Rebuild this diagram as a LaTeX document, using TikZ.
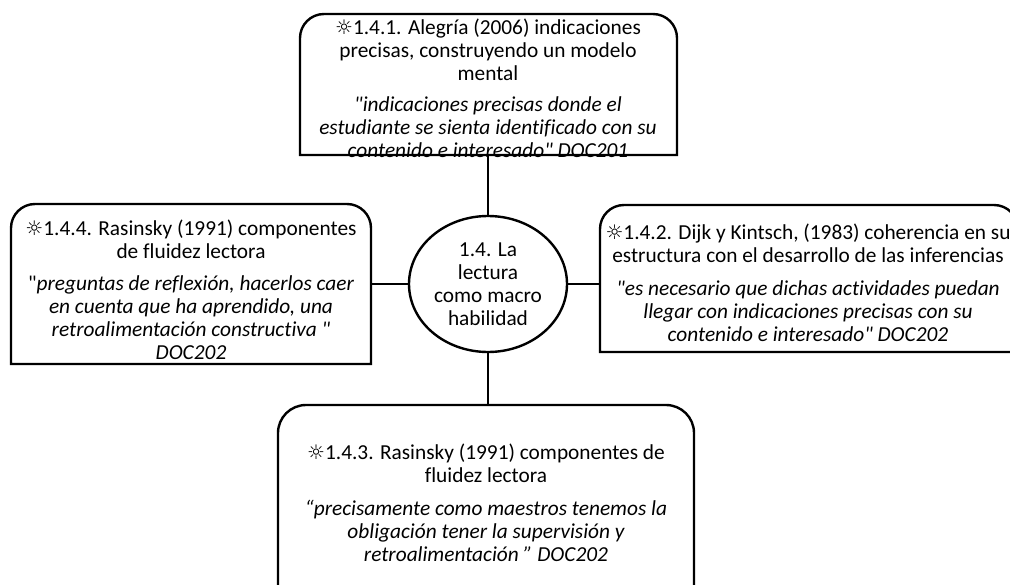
\documentclass[tikz,border=0pt]{standalone}
\usepackage{fontspec}
\setmainfont{Carlito}[Ligatures={TeXOff,NoCommon}]
\newfontfamily\symfont{DejaVu Sans}
\usetikzlibrary{shapes.geometric}
\newcommand{\sunmark}{{\symfont\fontsize{15pt}{10pt}\selectfont ☼}}
\tikzset{
  x=0.75pt,y=-0.75pt,
  ln/.style={line width=1.8pt,black},
  boxarea/.style={inner sep=0pt,outer sep=0pt,rectangle},
  body/.style={align=center,inner sep=0pt,font=\fontsize{16pt}{17.2pt}\selectfont},
}
\begin{document}
\begin{tikzpicture}
\useasboundingbox (0,0) rectangle (1010,585);
\clip (0,0) rectangle (1010,585);
\fill[white] (0,0) rectangle (1010,585);
% box areas
\node[boxarea,minimum width=282.75pt,minimum height=105.75pt] (t) at (488.5,84.5) {};
\node[boxarea,minimum width=270pt,minimum height=120pt] (l) at (191,284) {};
\node[boxarea,minimum width=313.5pt,minimum height=110.25pt] (r) at (809,278.5) {};
\node[boxarea,minimum width=312pt,minimum height=225pt] (b) at (486,555) {};
\node[ellipse,draw,ln,fill=white,inner sep=0pt,outer sep=0pt,minimum width=118.5pt,minimum height=102pt] (e) at (488,284) {};
% outlines
\draw[ln] (t.south west) [rounded corners=18pt] -- (t.north west) -- (t.north east) [sharp corners] -- (t.south east) -- cycle;
\draw[ln] (l.south west) [rounded corners=18pt] -- (l.north west) -- (l.north east) [sharp corners] -- (l.south east) -- cycle;
\draw[ln] (r.south west) [rounded corners=18pt] -- (r.north west) -- (r.north east) [sharp corners] -- (r.south east) -- cycle;
\draw[ln] (b.south west) [rounded corners=21pt] -- (b.north west) -- (b.north east) [sharp corners] -- (b.south east) -- cycle;
% connectors
\draw[ln] (e.north) -- (e.north |- t.south);
\draw[ln] (e.west) -- (e.west -| l.east);
\draw[ln] (e.east) -- (e.east -| r.west);
\draw[ln] (e.south) -- (e.south |- b.north);
% texts
\node[body] (tt1) at (488,50) {\sunmark1.4.1. Alegría (2006) indicaciones\\precisas, construyendo un modelo\\mental};
\node[body] (tt2) at (488,127) {\itshape "indicaciones precisas donde el\\\itshape estudiante se sienta identificado con su\\\itshape contenido e interesado" DOC201};
\node[body] (lt1) at (191,239) {\sunmark1.4.4. Rasinsky (1991) componentes\\de fluidez lectora};
\node[body] (lt2) at (191,318) {"\itshape preguntas de reflexión, hacerlos caer\\\itshape en cuenta que ha aprendido, una\\\itshape retroalimentación constructiva "\\\itshape DOC202};
\node[body] (rt1) at (808,243.5) {\sunmark1.4.2. Dijk y Kintsch, (1983) coherencia en su\\estructura con el desarrollo de las inferencias};
\node[body] (rt2) at (808,311) {\itshape "es necesario que dichas actividades puedan\\\itshape llegar con indicaciones precisas con su\\\itshape contenido e interesado" DOC202};
\node[body] (bt1) at (486,463.5) {\sunmark1.4.3. Rasinsky (1991) componentes de\\fluidez lectora};
\node[body] (bt2) at (486,531) {\itshape “precisamente como maestros tenemos la\\\itshape obligación tener la supervisión y\\\itshape retroalimentación ” DOC202};
\node[body] (et) at (488,284) {1.4. La\\lectura\\como macro\\habilidad};
\end{tikzpicture}
\end{document}
